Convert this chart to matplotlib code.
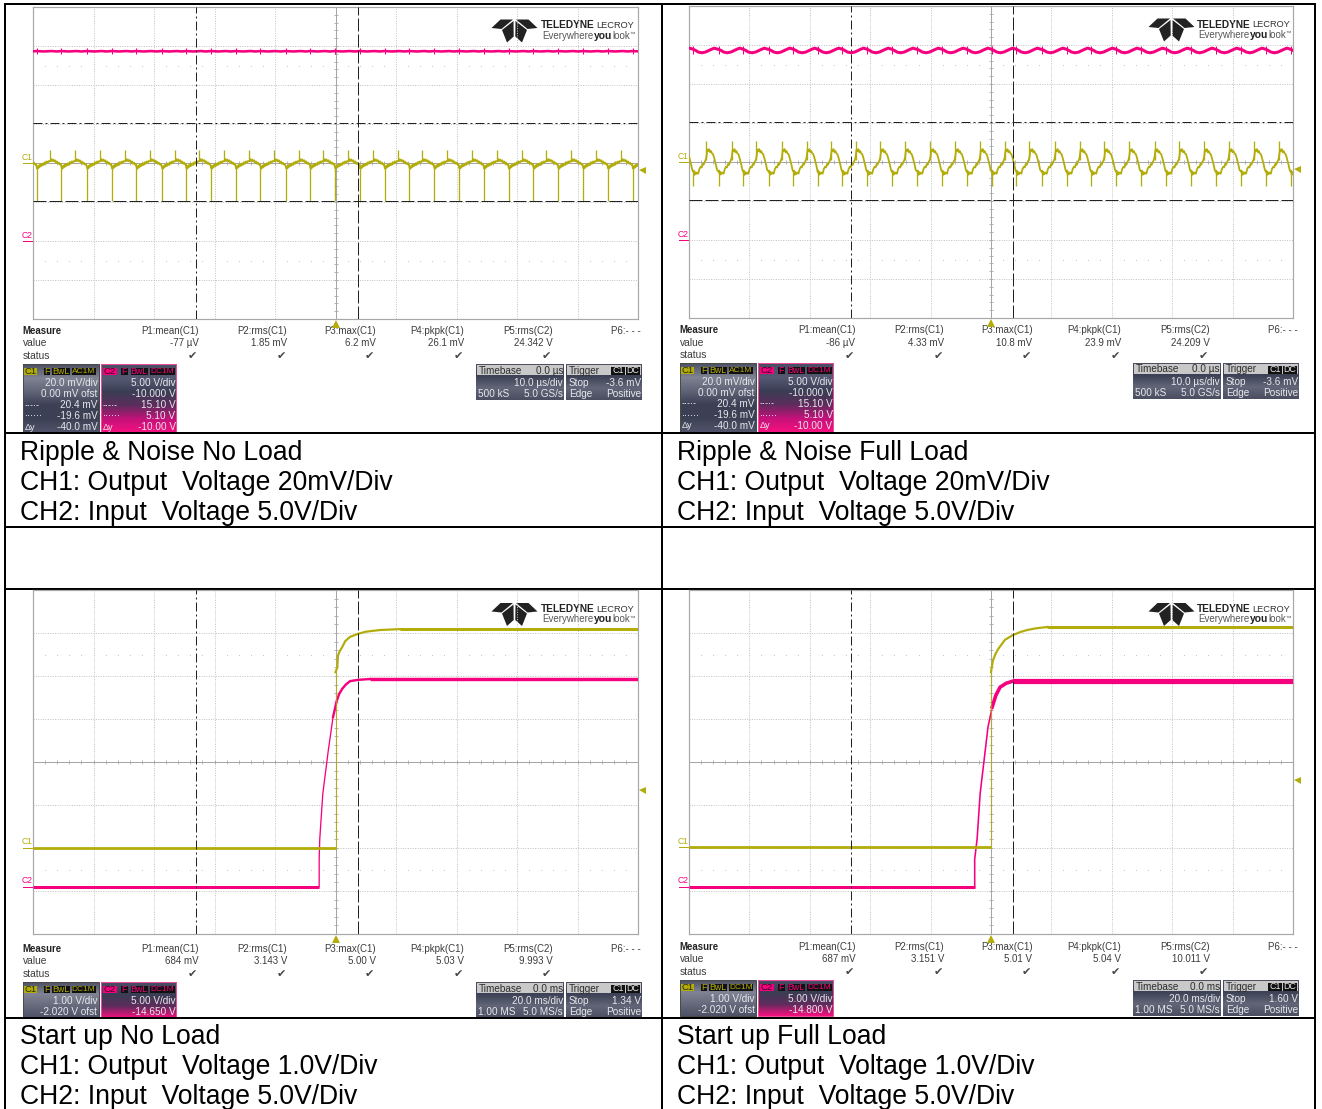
import numpy as np
import matplotlib
matplotlib.use("Agg")
import matplotlib.pyplot as plt
from matplotlib.colors import LinearSegmentedColormap
from matplotlib.patches import Rectangle, Polygon

plt.rcParams['font.family'] = ['Liberation Sans', 'DejaVu Sans']

W, H = 1322, 1109
YEL = '#b3ad0c'
PINK = '#f5007f'
TXT = '#3c3c3c'

# captions under each screen
captions = [
    ["Ripple & Noise No Load", "CH1: Output  Voltage 20mV/Div", "CH2: Input  Voltage 5.0V/Div"],
    ["Ripple & Noise Full Load", "CH1: Output  Voltage 20mV/Div", "CH2: Input  Voltage 5.0V/Div"],
    ["Start up No Load", "CH1: Output  Voltage 1.0V/Div", "CH2: Input  Voltage 5.0V/Div"],
    ["Start up Full Load", "CH1: Output  Voltage 1.0V/Div", "CH2: Input  Voltage 5.0V/Div"],
]

# measurement table
measure_heads = ["P1:mean(C1)", "P2:rms(C1)", "P3:max(C1)", "P4:pkpk(C1)", "P5:rms(C2)", "P6:- - -"]
measure_vals = [
    ["-77 µV", "1.85 mV", "6.2 mV", "26.1 mV", "24.342 V"],
    ["-86 µV", "4.33 mV", "10.8 mV", "23.9 mV", "24.209 V"],
    ["684 mV", "3.143 V", "5.00 V", "5.03 V", "9.993 V"],
    ["687 mV", "3.151 V", "5.01 V", "5.04 V", "10.011 V"],
]

# channel boxes
c1_coupling = ["AC1M", "AC1M", "DC1M", "DC1M"]
c1_lines = [
    ["20.0 mV/div", "0.00 mV ofst", "20.4 mV", "-19.6 mV", "-40.0 mV"],
    ["20.0 mV/div", "0.00 mV ofst", "20.4 mV", "-19.6 mV", "-40.0 mV"],
    ["1.00 V/div", "-2.020 V ofst"],
    ["1.00 V/div", "-2.020 V ofst"],
]
c2_lines = [
    ["5.00 V/div", "-10.000 V", "15.10 V", "5.10 V", "-10.00 V"],
    ["5.00 V/div", "-10.000 V", "15.10 V", "5.10 V", "-10.00 V"],
    ["5.00 V/div", "-14.650 V"],
    ["5.00 V/div", "-14.800 V"],
]
timebase_delay = ["0.0 µs", "0.0 µs", "0.0 ms", "0.0 ms"]
timebase_div = ["10.0 µs/div", "10.0 µs/div", "20.0 ms/div", "20.0 ms/div"]
timebase_pts = ["500 kS", "500 kS", "1.00 MS", "1.00 MS"]
timebase_rate = ["5.0 GS/s", "5.0 GS/s", "5.0 MS/s", "5.0 MS/s"]
trigger_level = ["-3.6 mV", "-3.6 mV", "1.34 V", "1.60 V"]

# everything on screen is in divisions: x 0..10, y -4..4
trigger_div = [-0.18, -0.18, -0.65, -0.42]
c1_zero_div = [0.0, 0.0, -2.0, -1.98]
c2_zero_div = [-2.0, -2.0, -2.9, -2.9]
cursor_x = [2.69, 5.37]
cursor_y = [1.02, -0.98]

period = 0.41
up_frac = 0.53
spikes_p1 = [-0.35, 0.06, 0.47, 0.89, 1.30, 1.71, 2.13, 2.53, 2.94, 3.35, 3.76, 4.18, 4.58,
             4.99, 5.40, 5.81, 6.22, 6.63, 7.04, 7.45, 7.86, 8.27, 8.68, 9.09, 9.50, 9.91]
spikes_p2 = [-0.34, 0.07, 0.49, 0.90, 1.32, 1.73, 2.13, 2.54, 2.95, 3.36, 3.78, 4.19, 4.60,
             5.01, 5.42, 5.84, 6.25, 6.66, 7.07, 7.49, 7.90, 8.31, 8.72, 9.14, 9.55, 9.96]
body_frac_p1 = [0.0, 0.03, 0.06, 0.09, 0.12, 0.15, 0.18, 0.21, 0.25, 0.29, 0.33, 0.37, 0.41, 0.45, 0.49,
                0.53, 0.56, 0.59, 0.62, 0.66, 0.70, 0.74, 0.78, 0.82, 0.86, 0.90, 0.94, 0.98]
body_vals_p1 = [-0.10, -0.15, -0.08, -0.12, -0.05, -0.09, -0.03, -0.07, -0.01, -0.05, 0.02, -0.02, 0.04, 0.01, 0.05,
                0.04, 0.05, 0.10, 0.05, 0.09, 0.04, 0.07, 0.01, 0.04, -0.02, 0.01, -0.04, -0.02]
body_frac_p2 = [0.0, 0.02, 0.05, 0.08, 0.11, 0.15, 0.20, 0.25, 0.30, 0.34, 0.38, 0.42, 0.46, 0.50,
                0.53, 0.57, 0.60, 0.64, 0.68, 0.72, 0.76, 0.80, 0.84, 0.88, 0.92, 0.96]
body_vals_p2 = [-0.25, -0.22, -0.33, -0.26, -0.31, -0.27, -0.30, -0.18, -0.12, -0.14, -0.05, -0.07, 0.00, 0.05,
                0.12, 0.32, 0.28, 0.33, 0.25, 0.28, 0.22, 0.20, 0.12, 0.02, -0.08, -0.20]
c1_spike_low = [-0.97, -0.62]
c1_spike_high = [0.33, 0.53]
c2_frac_p1 = [0.0, 0.30, 0.60, 0.80]
c2_vals_p1 = [2.87, 2.86, 2.87, 2.86]
c2_frac_p2 = [0.0, 0.10, 0.20, 0.35, 0.50, 0.70, 0.85, 0.99]
c2_vals_p2 = [2.89, 2.86, 2.82, 2.80, 2.82, 2.88, 2.92, 2.89]
c2_tick_low = [2.80, 2.78]
c2_tick_high = [2.94, 2.97]

# start up traces
c1_rise_x_p3 = [5.00, 5.00, 5.03, 5.04, 5.07, 5.11, 5.16, 5.24, 5.37, 5.50, 5.74, 5.90, 6.07]
c1_rise_y_p3 = [-2.00, 2.09, 2.20, 2.47, 2.58, 2.67, 2.81, 2.91, 2.98, 3.03, 3.07, 3.08, 3.09]
c2_rise_x_p3 = [4.73, 4.73, 4.74, 4.79, 4.88, 4.96, 5.02, 5.06, 5.11, 5.17, 5.24, 5.37, 5.57]
c2_rise_y_p3 = [-2.90, -2.26, -1.79, -0.74, 0.26, 1.05, 1.42, 1.58, 1.70, 1.80, 1.88, 1.91, 1.93]
c1_rise_x_p4 = [5.00, 5.00, 5.03, 5.07, 5.12, 5.23, 5.36, 5.48, 5.60, 5.75, 5.93]
c1_rise_y_p4 = [-1.98, 2.09, 2.35, 2.50, 2.63, 2.84, 2.95, 3.02, 3.07, 3.11, 3.14]
c2_rise_x_p4 = [4.73, 4.73, 4.77, 4.82, 4.95, 5.02, 5.08, 5.15, 5.25, 5.36]
c2_rise_y_p4 = [-2.90, -2.26, -1.79, -0.74, 0.81, 1.28, 1.55, 1.74, 1.83, 1.88]

# screen rectangles, px: left, top, right, bottom
screens = [(33, 7, 638, 319), (689, 6, 1293, 318), (33, 590, 638, 934), (689, 590, 1293, 934)]
x_off = [0, 657, 0, 657]
measure_y = [331, 330, 949, 947]
caption_y = [453, 453, 1037, 1037]

fig = plt.figure(figsize=(W / 100, H / 100), dpi=100, facecolor='white')
root = fig.add_axes([0, 0, 1, 1])
root.axis('off')


def px(v):
    return v * 0.72


def periodic(spikes, frac, vals):
    xs = np.concatenate([s + np.array(frac) * period for s in spikes])
    ys = np.tile(vals, len(spikes))
    return xs, ys


def gradient(x0, y0, x1, y1, cols):
    cm = LinearSegmentedColormap.from_list('g', cols)
    root.imshow(np.linspace(0, 1, 64).reshape(-1, 1), cmap=cm, aspect='auto', extent=(x0, x1, y1, y0), zorder=1)


def chip(x0, x1, y0, y1, face, label, col, fs=6.4):
    root.add_patch(Rectangle((x0, y0), x1 - x0, y1 - y0, fc=face, ec='none', zorder=2))
    root.text((x0 + x1) / 2, (y0 + y1) / 2 + 0.3, label, color=col, fontsize=fs, ha='center', va='center', zorder=3)


def lbl(x, y, s, ha='right', col='#e8e8ec', fs=7.2, weight='normal'):
    root.text(x, y, s, color=col, fontsize=fs, ha=ha, va='center', zorder=3, weight=weight)


def logo(cx, top, x_text):
    for sgn in (-1, 1):
        wing = [(-23, 8.5), (-14, 0), (-1.5, 0), (-13, 9.5)]
        kite = [(-12.5, 10.5), (-1, 1.5), (-0.8, 17), (-7.5, 23)]
        root.add_patch(Polygon([(cx + sgn * a, top + b) for a, b in wing], fc='#222222', ec='none', zorder=6))
        root.add_patch(Polygon([(cx + sgn * a, top + b) for a, b in kite], fc='#222222', ec='none', zorder=6))
    root.text(x_text, top + 6, "TELEDYNE", color='#222222', fontsize=7.3, weight='bold', va='center', zorder=6)
    root.text(x_text + 55.5, top + 6, "LECROY", color='#333333', fontsize=6.7, va='center', zorder=6)
    root.text(x_text + 1, top + 16.5, "Everywhere", color='#555555', fontsize=7.0, va='center', zorder=6)
    root.text(x_text + 52.5, top + 16.5, "you", color='#222222', fontsize=7.4, weight='bold', va='center', zorder=6)
    root.text(x_text + 71, top + 16.5, "look", color='#555555', fontsize=7.0, va='center', zorder=6)
    root.text(x_text + 88, top + 15, "™", color='#555555', fontsize=4.0, va='center', zorder=6)


def draw_screen(i):
    l, t, r, b = screens[i]
    ax = fig.add_axes([l / W, 1 - b / H, (r - l) / W, (b - t) / H], zorder=5)
    ax.patch.set_alpha(0)
    ax.set_xlim(0, 10)
    ax.set_ylim(-4, 4)
    ax.set_xticks([])
    ax.set_yticks([])
    for s in ax.spines.values():
        s.set_color('#a8a8a8')
        s.set_linewidth(px(1.2))
    # grid
    for k in range(1, 10):
        if k != 5:
            ax.axvline(k, color='#c4c4c4', lw=px(1), ls=(0, (1, 1.4)), zorder=1)
    for k in range(-3, 4):
        if k != 0:
            ax.axhline(k, color='#c4c4c4', lw=px(1), ls=(0, (1, 1.4)), zorder=1)
    ax.axvline(5, color='#a6a6a6', lw=px(1), zorder=1)
    ax.axhline(0, color='#a6a6a6', lw=px(1), zorder=1)
    minor = np.arange(0, 10.01, 0.2)
    ax.plot(minor, np.zeros_like(minor), ls='', marker='|', ms=px(5), mew=px(0.8), color='#a6a6a6', zorder=1)
    minor_y = np.arange(-4, 4.01, 0.2)
    ax.plot(np.full_like(minor_y, 5.0), minor_y, ls='', marker='_', ms=px(5), mew=px(0.8), color='#a6a6a6', zorder=1)
    dots = np.array([v for v in minor if abs(v - round(v)) > 0.01])
    for lev in (2.5, -2.5):
        ax.plot(dots, np.full_like(dots, lev), ls='', marker='s', ms=px(1), mew=0, color='#c8c8c8', zorder=1)

    # traces
    if i < 2:
        spikes = spikes_p1 if i == 0 else spikes_p2
        bf, bv = (body_frac_p1, body_vals_p1) if i == 0 else (body_frac_p2, body_vals_p2)
        cf, cv = (c2_frac_p1, c2_vals_p1) if i == 0 else (c2_frac_p2, c2_vals_p2)
        cx, cy = periodic(spikes, bf, bv)
        px2, py2 = periodic(spikes, cf, cv)
        ax.plot(px2, py2, color=PINK, lw=px(2.6 if i == 0 else 3.0), zorder=3, solid_joinstyle='round')
        ax.vlines(spikes, c2_tick_low[i], c2_tick_high[i], color=PINK, lw=px(1), zorder=3)
        ax.plot(cx, cy, color=YEL, lw=px(1.8), zorder=3)
        s = np.array(spikes)
        ax.vlines(s, -0.1 if i == 0 else -0.25, c1_spike_low[i], color=YEL, lw=px(1.3), zorder=3)
        ax.vlines(s + up_frac * period, 0.05, c1_spike_high[i], color=YEL, lw=px(1.3), zorder=3)
        ax.axhline(cursor_y[0], color='#222222', lw=px(1), ls=(0, (9, 3, 2, 3)), zorder=4)
        ax.axhline(cursor_y[1], color='#222222', lw=px(1), ls=(0, (13, 3)), zorder=4)
    else:
        if i == 2:
            c1x, c1y, c2x, c2y, band = c1_rise_x_p3, c1_rise_y_p3, c2_rise_x_p3, c2_rise_y_p3, 3.4
        else:
            c1x, c1y, c2x, c2y, band = c1_rise_x_p4, c1_rise_y_p4, c2_rise_x_p4, c2_rise_y_p4, 5.2
        ax.plot([0, c2x[0]], [c2y[0], c2y[0]], color=PINK, lw=px(3), zorder=3, solid_capstyle='butt')
        ax.plot(c2x[:6], c2y[:6], color=PINK, lw=px(1.3 if i == 2 else 1.6), zorder=3)
        ax.plot(c2x[5:], c2y[5:], color=PINK, lw=px(2.4 if i == 2 else 3.6), zorder=3)
        ax.plot([c2x[-1], 10], [c2y[-1], c2y[-1]], color=PINK, lw=px(band), zorder=3, solid_capstyle='butt')
        ax.plot([0, c1x[0]], [c1y[0], c1y[0]], color=YEL, lw=px(2.8), zorder=3, solid_capstyle='butt')
        ax.plot(c1x[:2], c1y[:2], color=YEL, lw=px(1.2), alpha=0.75, zorder=3)
        ax.plot(c1x[1:], c1y[1:], color=YEL, lw=px(2.2), zorder=3)
        ax.plot([c1x[-1], 10], [c1y[-1], c1y[-1]], color=YEL, lw=px(3), zorder=3, solid_capstyle='butt')
    ax.axvline(cursor_x[0], color='#222222', lw=px(1), ls=(0, (9, 3, 2, 3)), zorder=4)
    ax.axvline(cursor_x[1], color='#222222', lw=px(1), ls=(0, (13, 3)), zorder=4)

    # markers outside the grid
    ax.plot([5], [-4.12], marker='^', ms=px(8), color=YEL, mew=0, clip_on=False, zorder=6)
    ax.plot([10.07], [trigger_div[i]], marker='<', ms=px(7), color=YEL, mew=0, clip_on=False, zorder=6)
    ax.plot([-0.17, 0], [c1_zero_div[i]] * 2, color=YEL, lw=px(1), clip_on=False)
    ax.plot([-0.17, 0], [c2_zero_div[i]] * 2, color=PINK, lw=px(1), clip_on=False)
    ax.text(-0.1, c1_zero_div[i] + 0.14, "C1", color=YEL, fontsize=6.2, ha='center', va='center', clip_on=False)
    ax.text(-0.1, c2_zero_div[i] + 0.14, "C2", color=PINK, fontsize=6.2, ha='center', va='center', clip_on=False)


def draw_readout(i):
    dx = x_off[i]
    my = measure_y[i]
    lbl(22.5 + dx, my, "Measure", ha='left', col='#222222', fs=6.9, weight='bold')
    lbl(22.5 + dx, my + 12.5, "value", ha='left', col=TXT, fs=7.4)
    lbl(22.5 + dx, my + 25, "status", ha='left', col=TXT, fs=7.4)
    head_x = [198.5, 287, 375.5, 464, 552.5, 640.5]
    for k, s in enumerate(measure_heads):
        lbl(head_x[k] + dx, my, s, col=TXT, fs=7.0)
    for k, s in enumerate(measure_vals[i]):
        lbl(head_x[k] + dx, my + 12.5, s, col=TXT, fs=7.0)
        root.text(head_x[k] + dx - 6, my + 25.5, "\u2714", color='#444444', fontsize=8, ha='center', va='center',
                  family='DejaVu Sans', zorder=3)

    top = my + 33
    ripple = i < 2
    bottom = top + (69 if ripple else 36)
    # C1 box
    gradient(23 + dx, top, 98.5 + dx, bottom, ['#4d5162', '#7f8393', '#666a7c', '#4e5266'] if not ripple
             else ['#4d5162', '#7f8393', '#5f6477', '#3c4054', '#3c4054', '#50546a'])
    # C2 box
    if ripple:
        gradient(100.5 + dx, top, 176 + dx, bottom, ['#4a4e64', '#555a72', '#3a3e55', '#5c2d5c', '#c3127a', '#f5107f'])
    else:
        gradient(100.5 + dx, top, 176 + dx, bottom, ['#4a4e64', '#3a3e55', '#5c2d5c', '#f5107f'])
    root.add_patch(Rectangle((23 + dx, top), 75.5, bottom - top, fc='none', ec='#4a4a4a', lw=px(1), zorder=2))
    root.add_patch(Rectangle((100.5 + dx, top), 75.5, bottom - top, fc='none', ec='#f04c9c', lw=px(1), zorder=2))

    chip(24 + dx, 37 + dx, top + 3.5, top + 11, YEL, "C1", '#2a2a00', 6.8)
    chip(43.5 + dx, 49.5 + dx, top + 3.5, top + 11, '#111111', "F", YEL)
    chip(51.5 + dx, 70 + dx, top + 3.5, top + 11, '#111111', "BwL", YEL)
    chip(71.5 + dx, 96 + dx, top + 3.5, top + 11, '#111111', c1_coupling[i], YEL, 6.0)
    chip(103 + dx, 117 + dx, top + 3.5, top + 11, PINK, "C2", '#3a0020', 6.8)
    chip(120.5 + dx, 128 + dx, top + 3.5, top + 11, '#111111', "F", PINK)
    chip(130.5 + dx, 148 + dx, top + 3.5, top + 11, '#111111', "BwL", PINK)
    chip(150 + dx, 175 + dx, top + 3.5, top + 11, '#111111', "DC1M", PINK, 6.0)

    row_y = [19, 30, 41, 52, 63]
    marks = ["-·-·-", "······", "Δy"]
    for k, s in enumerate(c1_lines[i]):
        lbl(97.5 + dx, top + row_y[k], s)
    for k, s in enumerate(c2_lines[i]):
        lbl(175.5 + dx, top + row_y[k], s)
    if ripple:
        for k, s in enumerate(marks):
            lbl(25 + dx, top + row_y[k + 2], s, ha='left', fs=6.6)
            lbl(103 + dx, top + row_y[k + 2], s, ha='left', fs=6.6)

    # timebase and trigger
    gradient(476 + dx, top, 564 + dx, top + 36, ['#4d5162', '#3d4155', '#626678', '#4a4e60'])
    gradient(566 + dx, top, 642 + dx, top + 36, ['#4d5162', '#3d4155', '#626678', '#4a4e60'])
    root.add_patch(Rectangle((477 + dx, top + 1), 86, 10, fc='#c9c9c9', ec='none', zorder=2))
    root.add_patch(Rectangle((567 + dx, top + 1), 74, 10, fc='#c9c9c9', ec='none', zorder=2))
    lbl(479 + dx, top + 6.5, "Timebase", ha='left', col='#2c2c2c', fs=7.2)
    lbl(563 + dx, top + 6.5, timebase_delay[i], col='#2c2c2c', fs=7.2)
    lbl(569 + dx, top + 6.5, "Trigger", ha='left', col='#2c2c2c', fs=7.2)
    chip(611 + dx, 625 + dx, top + 2.5, top + 10.5, '#111111', "C1", '#e8e8ec')
    chip(626 + dx, 640 + dx, top + 2.5, top + 10.5, '#111111', "DC", '#e8e8ec')
    lbl(563 + dx, top + 19, timebase_div[i])
    lbl(478 + dx, top + 30, timebase_pts[i], ha='left')
    lbl(563 + dx, top + 30, timebase_rate[i])
    lbl(569 + dx, top + 19, "Stop", ha='left')
    lbl(641 + dx, top + 19, trigger_level[i])
    lbl(569 + dx, top + 30, "Edge", ha='left')
    lbl(641 + dx, top + 30, "Positive")


for i in range(4):
    draw_screen(i)
    draw_readout(i)
    logo(514.5 + x_off[i], screens[i][1] + 12.5 + (0 if i < 2 else 0.5), 541 + x_off[i] - (1 if i % 2 else 0))
    for k, s in enumerate(captions[i]):
        root.text(20 + x_off[i], caption_y[i] + 30 * k, s, color='black', fontsize=19.1, va='center', zorder=3)

# table rules
for y in [4, 433, 527, 589, 1017.5]:
    root.plot([4, 1316], [y, y], color='black', lw=px(2), zorder=7, solid_capstyle='butt')
for x in [5, 662, 1315]:
    root.plot([x, x], [3, H], color='black', lw=px(2), zorder=7, solid_capstyle='butt')

root.set_xlim(0, W)
root.set_ylim(H, 0)
fig.savefig('out.png', dpi=100)
